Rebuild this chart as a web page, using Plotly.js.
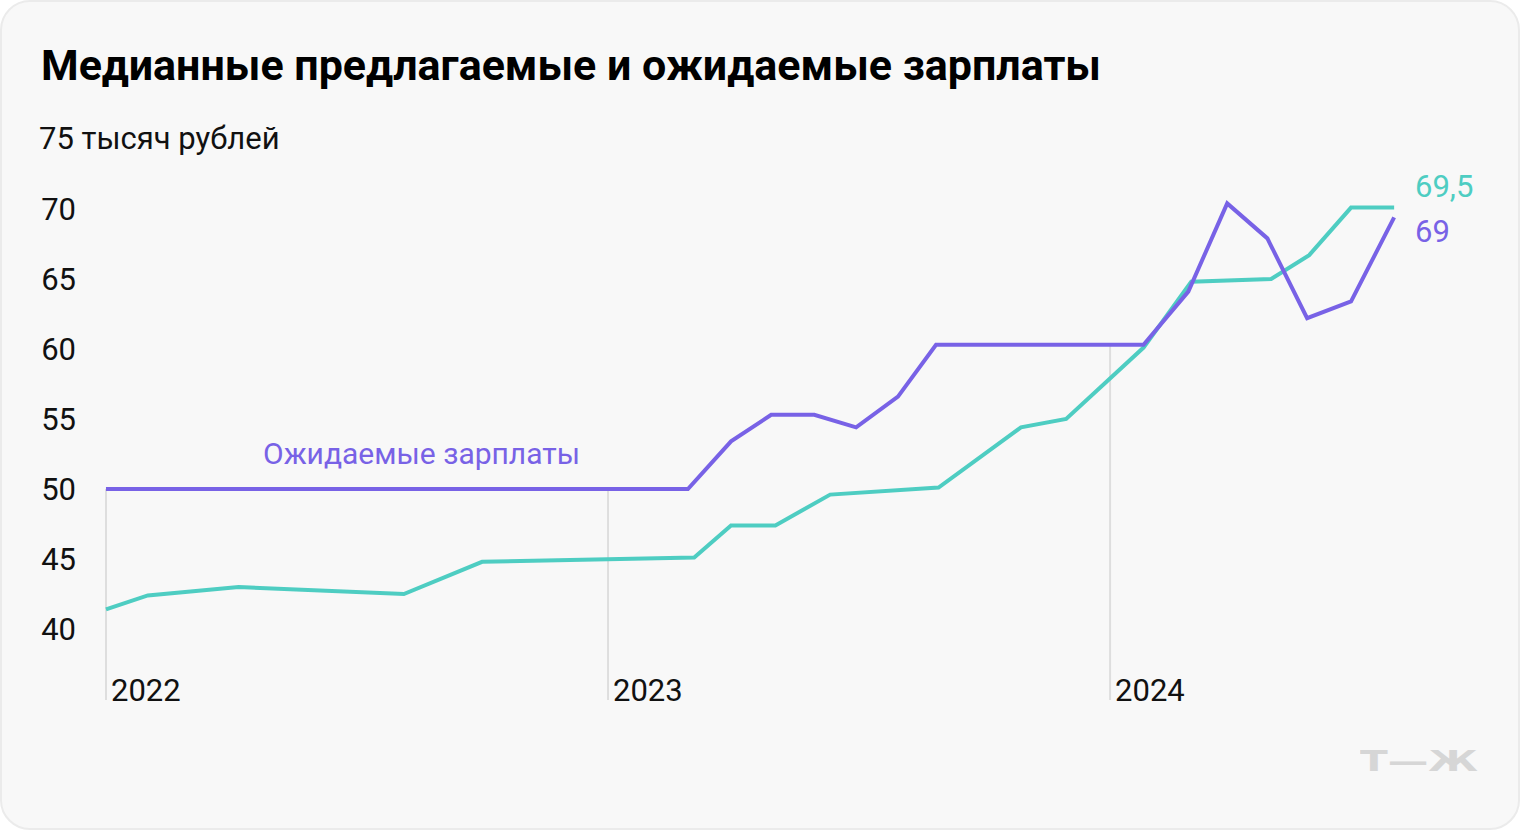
<!DOCTYPE html>
<html>
<head>
<meta charset="utf-8">
<script src="https://cdn.plot.ly/plotly-3.0.1.min.js"></script>
<style>
  html, body { margin: 0; padding: 0; background: #ffffff; }
  #card {
    position: absolute; left: 0; top: 0; width: 1516px; height: 826px;
    background: #f8f8f8; border: 2px solid #ebebeb; border-radius: 30px;
  }
  #chart { position: absolute; left: 0; top: 0; width: 1520px; height: 830px; }
  #logo {
    position: absolute; left: 1360px; top: 745px; height: 34px; line-height: 34px;
    font-family: "DejaVu Sans", sans-serif; font-weight: bold; font-size: 28px; color: #d6d6d6;
    transform-origin: left center; transform: scaleX(1.45); white-space: nowrap;
  }
</style>
</head>
<body>
<div id="card"></div>
<div id="chart"></div>
<div id="logo">Т—Ж</div>
<script>
// Months since January 2022
const expectedMonths = [0, 13.91, 14.94, 15.9, 16.93, 17.93, 18.93, 19.84, 24.8, 25.87, 26.8, 27.76, 28.71, 29.76, 30.79];
const expectedSalary = [50, 50, 53.4, 55.3, 55.3, 54.4, 56.6, 60.3, 60.3, 64.1, 70.4, 67.9, 62.2, 63.4, 69.4];

const offeredMonths = [0, 1.0, 3.17, 7.12, 8.99, 14.06, 14.94, 16.0, 17.31, 19.9, 21.87, 22.95, 24.8, 25.94, 27.85, 28.76, 29.76, 30.79];
const offeredSalary = [41.4, 42.4, 43.0, 42.5, 44.8, 45.1, 47.4, 47.4, 49.6, 50.1, 54.4, 55.0, 60.1, 64.8, 65.0, 66.7, 70.1, 70.1];

const yearTickVals = [0, 12, 24];
const yearTickText = ['2022', '2023', '2024'];
const yTickVals = [40, 45, 50, 55, 60, 65, 70];
const yTickText = ['40', '45', '50', '55', '60', '65', '70'];

const titleText = 'Медианные предлагаемые и ожидаемые зарплаты';
const unitText = '75 тысяч рублей';
const expectedLabel = 'Ожидаемые зарплаты';
const offeredEndLabel = '69,5';
const expectedEndLabel = '69';

const PURPLE = '#7862e6';
const GREEN = '#4ecdc2';
const FONT = 'Roboto, "Liberation Sans", sans-serif';

const yMin = 34.93, yMax = 75.64;

function interp(xs, ys, x) {
  for (let i = 0; i < xs.length - 1; i++) {
    if (x >= xs[i] && x <= xs[i + 1]) {
      const t = (x - xs[i]) / (xs[i + 1] - xs[i]);
      return ys[i] + t * (ys[i + 1] - ys[i]);
    }
  }
  return ys[ys.length - 1];
}

// vertical year guides that rise from the bottom up to the purple line
const gx = [], gy = [];
yearTickVals.forEach(v => {
  gx.push(v, v, null);
  gy.push(yMin, interp(expectedMonths, expectedSalary, v), null);
});

const traces = [
  { x: gx, y: gy, mode: 'lines', line: { color: '#dedede', width: 2 }, hoverinfo: 'skip', cliponaxis: false },
  { x: offeredMonths, y: offeredSalary, mode: 'lines', line: { color: GREEN, width: 4 }, name: 'Предлагаемые', cliponaxis: false },
  { x: expectedMonths, y: expectedSalary, mode: 'lines', line: { color: PURPLE, width: 4 }, name: 'Ожидаемые', cliponaxis: false }
];

const nO = offeredMonths.length - 1, nE = expectedMonths.length - 1;

const layout = {
  width: 1520, height: 830,
  paper_bgcolor: 'rgba(0,0,0,0)', plot_bgcolor: 'rgba(0,0,0,0)',
  margin: { l: 100, r: 120, t: 130, b: 130 },
  showlegend: false,
  font: { family: FONT, color: '#111111', size: 30 },
  title: {
    text: '<b>' + titleText + '</b>',
    x: 41 / 1520, xanchor: 'left', xref: 'container',
    y: 1 - 65 / 830, yanchor: 'middle', yref: 'container',
    font: { family: FONT, size: 43, color: '#000000' }
  },
  xaxis: {
    range: [-0.143, 30.93], showgrid: false, zeroline: false, showline: false,
    tickvals: yearTickVals, ticktext: yearTickText, ticks: '',
    ticklabelposition: 'inside right', ticklabelstandoff: -13, ticklabelshift: 5,
    tickfont: { family: FONT, size: 31, color: '#111111' }, fixedrange: true
  },
  yaxis: {
    range: [yMin, yMax], showgrid: false, zeroline: false, showline: false,
    tickvals: yTickVals, ticktext: yTickText, ticks: '',
    ticklabelstandoff: 23,
    tickfont: { family: FONT, size: 31, color: '#111111' }, fixedrange: true
  },
  annotations: [
    { xref: 'paper', yref: 'y', x: -63 / 1300, y: 75, xanchor: 'left', yanchor: 'middle',
      text: unitText, showarrow: false, font: { family: FONT, size: 31, color: '#111111' } },
    { xref: 'x', yref: 'y', x: 7.53, y: expectedSalary[0], yshift: 36, xanchor: 'center', yanchor: 'middle',
      text: expectedLabel, showarrow: false, font: { family: FONT, size: 30, color: PURPLE } },
    { xref: 'x', yref: 'y', x: offeredMonths[nO], y: offeredSalary[nO], xshift: 19, yshift: 21, xanchor: 'left', yanchor: 'middle',
      text: offeredEndLabel, showarrow: false, font: { family: FONT, size: 31, color: GREEN } },
    { xref: 'x', yref: 'y', x: expectedMonths[nE], y: expectedSalary[nE], xshift: 19, yshift: -14, xanchor: 'left', yanchor: 'middle',
      text: expectedEndLabel, showarrow: false, font: { family: FONT, size: 31, color: PURPLE } }
  ]
};

Plotly.newPlot('chart', traces, layout, { displayModeBar: false, staticPlot: true });
</script>
</body>
</html>
